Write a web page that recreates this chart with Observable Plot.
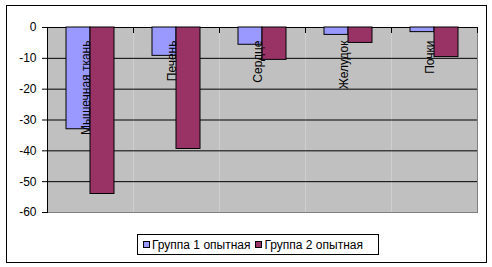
<!DOCTYPE html>
<html>
<head>
<meta charset="utf-8">
<script src="https://cdn.jsdelivr.net/npm/d3@7"></script>
<script src="https://cdn.jsdelivr.net/npm/@observablehq/plot@0.6"></script>
<style>
  html, body { margin: 0; padding: 0; background: #fff; }
  body { width: 492px; height: 267px; position: relative; overflow: hidden;
         font-family: "Liberation Sans", Arial, sans-serif; }
  #frame { position: absolute; left: 6px; top: 5px; width: 481px; height: 258px;
           border: 1px solid #000; box-sizing: border-box; }
  #chart { position: absolute; left: 0; top: 0; }
  #legend { position: absolute; left: 137px; top: 234px; width: 242px; height: 21px;
            border: 1px solid #000; box-sizing: border-box; background: #fff;
            display: flex; align-items: center; padding-left: 5px;
            font-size: 12px; color: #000; white-space: nowrap; }
  .item { display: flex; align-items: center; margin-right: 5px; }
  .sw { width: 7px; height: 7px; border: 1px solid #000; box-sizing: border-box; margin-right: 2px; }
</style>
</head>
<body>
<div id="frame"></div>
<div id="chart"></div>
<div id="legend"></div>
<script>
const categories = ["Мышечная ткань", "Печень", "Сердце", "Желудок", "Почки"];
const series = ["Группа 1 опытная", "Группа 2 опытная"];
const group1 = [-33, -9.2, -5.6, -2.4, -1.5];
const group2 = [-54, -39.4, -10.5, -5.0, -9.6];
const yTicks = [0, -10, -20, -30, -40, -50, -60];
const colors = ["#9999FF", "#993366"];

const data = [];
categories.forEach((c, i) => {
  data.push({category: c, series: series[0], value: group1[i]});
  data.push({category: c, series: series[1], value: group2[i]});
});

const chart = Plot.plot({
  width: 492,
  height: 230,
  marginLeft: 47,
  marginRight: 15,
  marginTop: 27,
  marginBottom: 18,
  style: {fontFamily: '"Liberation Sans", Arial, sans-serif', fontSize: "12px", color: "#000", background: "transparent"},
  fx: {domain: categories, padding: 0, axis: null},
  x: {domain: series, paddingInner: 0, paddingOuter: 0.755, axis: null},
  y: {domain: [-60, 0], axis: null},
  color: {domain: series, range: colors},
  marks: [
    Plot.frame({fill: "#c0c0c0"}),
    Plot.gridY({ticks: yTicks, stroke: "#000", strokeOpacity: 1}),
    Plot.ruleY([yTicks[yTicks.length - 1]], {stroke: "#808080"}),
    Plot.frame({anchor: "right", stroke: "#808080", fx: categories[categories.length - 1]}),
    Plot.barY(data, {fx: "category", x: "series", y: "value", fill: "series", stroke: "#000", strokeWidth: 1}),
    Plot.frame({anchor: "right", stroke: "#000", insetBottom: 180}),
    Plot.frame({anchor: "left", stroke: "#000", fx: categories[0]}),
    Plot.axisY({ticks: yTicks, tickSize: 5, tickPadding: 6, tickFormat: d => `${d}`, fontSize: 12, anchor: "left", label: null}),
    Plot.text(categories, {fx: d => d, text: d => d, frameAnchor: "top", rotate: -90,
      textAnchor: "end", lineAnchor: "middle", dy: 13, dx: -4, fontSize: 12, fill: "#000"})
  ]
});
document.getElementById("chart").appendChild(chart);

const legend = document.getElementById("legend");
series.forEach((s, i) => {
  const item = document.createElement("div");
  item.className = "item";
  const sw = document.createElement("div");
  sw.className = "sw";
  sw.style.background = colors[i];
  const t = document.createElement("span");
  t.textContent = s;
  item.appendChild(sw);
  item.appendChild(t);
  legend.appendChild(item);
});
</script>
</body>
</html>
